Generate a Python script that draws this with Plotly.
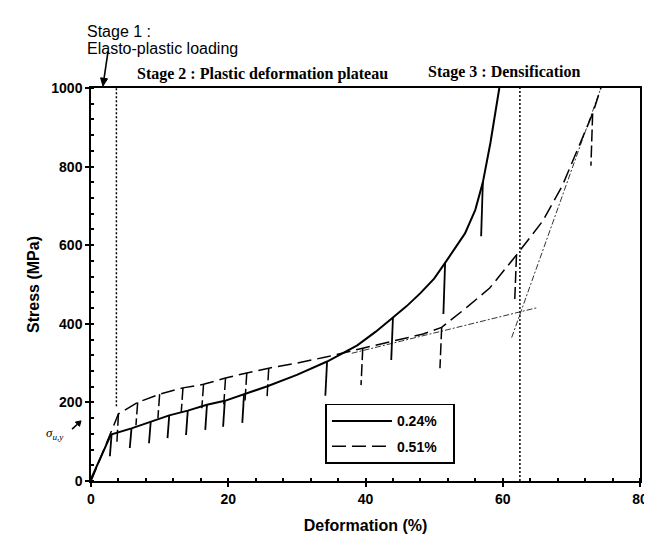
import math
import plotly.graph_objects as go

# ---- data ----
# 0.24% curve (loading envelope)
s024_x = [0, 0.5, 2.9, 5.9, 8.7, 11.4, 14.1, 16.9, 19.5, 22.3, 25.7, 30, 34.4, 38.8,
          41.5, 44, 46, 48, 50, 51.6, 53, 54.5, 56, 57.1, 58.2, 59.5]
s024_y = [5, 25, 118, 134, 150, 167, 179, 194, 204, 221, 241, 270, 304, 345,
          380, 416, 445, 478, 515, 555, 590, 630, 690, 760, 860, 1000]
# 0.24% unloading drops
u024_x = [3.0, 5.9, 8.7, 11.4, 14.1, 16.9, 19.5, 22.3, 34.4, 44, 51.6, 57.1]
u024_top = [119, 134, 150, 167, 179, 194, 204, 221, 304, 416, 555, 760]
u024_bot = [63, 84, 96, 109, 117, 130, 138, 148, 217, 308, 425, 623]

# 0.51% curve (loading envelope)
s051_x = [0, 0.3, 4.0, 6.8, 10, 13.4, 16.4, 19.6, 22.7, 25.9, 30, 34.4, 39.6, 44.6,
          48.4, 51.1, 54.7, 58.1, 62, 65.8, 68.7, 73.1, 74.3]
s051_y = [0, 12, 171, 200, 221, 237, 246, 262, 275, 287, 300, 316, 338, 358,
          374, 391, 441, 491, 575, 661, 752, 935, 1000]
# 0.51% unloading drops
u051_x = [4.0, 6.8, 10, 13.4, 16.4, 19.6, 22.7, 25.9, 39.6, 51.1, 62, 73.1]
u051_top = [171, 200, 221, 237, 246, 262, 275, 287, 338, 391, 575, 935]
u051_bot = [90, 142, 160, 175, 185, 195, 205, 212, 244, 287, 461, 802]

# tangent construction lines
tan_plateau_x = [38, 65]
tan_plateau_y = [325, 441]
tan_dens_x = [61.3, 74.3]
tan_dens_y = [365, 1000]

# stage boundaries (dotted verticals)
stage_x = [3.7, 62.5]
stage_ybot = [190, 0]
stage_ytop = [1000, 1000]

x_ticks = [0, 20, 40, 60, 80]
y_ticks = [0, 200, 400, 600, 800, 1000]

# ---- layout geometry (pixels) ----
W, H = 652, 536
ML, MR, MT, MB = 83, 18, 80, 54
PW, PH = W - ML - MR, H - MT - MB


def paper(px, py):
    return (px - ML) / PW, (H - MB - py) / PH


def arrow_path(tail, head, hl=7, hw=3.5):
    dx, dy = head[0] - tail[0], head[1] - tail[1]
    n = math.hypot(dx, dy)
    ux, uy = dx / n, dy / n
    bx, by = head[0] - ux * hl, head[1] - uy * hl
    p1 = (bx - uy * hw, by + ux * hw)
    p2 = (bx + uy * hw, by - ux * hw)
    t0, b0 = paper(*tail), paper(bx, by)
    tri = [paper(*head), paper(*p1), paper(*p2)]
    line = "M{:.4f},{:.4f} L{:.4f},{:.4f}".format(*t0, *b0)
    head_p = "M{:.4f},{:.4f} L{:.4f},{:.4f} L{:.4f},{:.4f} Z".format(*tri[0], *tri[1], *tri[2])
    return line, head_p


def segs(xs, tops, bots):
    X, Y = [], []
    for x, t, b in zip(xs, tops, bots):
        X += [x, x - 0.25, None]
        Y += [t, b, None]
    return X, Y


fig = go.Figure()

# dotted stage lines
for x, yb, yt in zip(stage_x, stage_ybot, stage_ytop):
    fig.add_trace(go.Scatter(x=[x, x], y=[yb, yt], mode="lines",
                             line=dict(color="black", width=1.5, dash="2px,2px"),
                             showlegend=False, hoverinfo="skip"))

# construction tangents
fig.add_trace(go.Scatter(x=tan_plateau_x, y=tan_plateau_y, mode="lines",
                         line=dict(color="#333", width=1, dash="6px,2px,2px,2px"),
                         showlegend=False, hoverinfo="skip"))
fig.add_trace(go.Scatter(x=tan_dens_x, y=tan_dens_y, mode="lines",
                         line=dict(color="#333", width=1, dash="6px,2px,2px,2px"),
                         showlegend=False, hoverinfo="skip"))

# 0.24 %
ux, uy = segs(u024_x, u024_top, u024_bot)
fig.add_trace(go.Scatter(x=ux, y=uy, mode="lines", line=dict(color="black", width=1.8),
                         showlegend=False, hoverinfo="skip"))
fig.add_trace(go.Scatter(x=s024_x, y=s024_y, mode="lines",
                         name="0.24%&nbsp;&nbsp;&nbsp;", legendgroup="a",
                         line=dict(color="black", width=2)))

# 0.51 %
ux, uy = segs(u051_x, u051_top, u051_bot)
fig.add_trace(go.Scatter(x=ux, y=uy, mode="lines",
                         line=dict(color="black", width=1.5, dash="12px,4px"),
                         showlegend=False, hoverinfo="skip"))
fig.add_trace(go.Scatter(x=s051_x, y=s051_y, mode="lines",
                         name="0.51%&nbsp;&nbsp;&nbsp;", legendgroup="b",
                         line=dict(color="black", width=1.5, dash="14px,6px")))

axis_font = dict(family="Arial, Liberation Sans", size=14, color="black", weight="bold")
title_font = dict(family="Arial, Liberation Sans", size=16, color="black", weight="bold")

fig.update_xaxes(range=[0, 80], tickvals=x_ticks, showgrid=False, zeroline=False,
                 showline=True, linecolor="black", linewidth=1.5, mirror=True,
                 ticks="outside", ticklen=4, tickwidth=1.5, tickcolor="black",
                 tickfont=axis_font,
                 minor=dict(ticks="inside", ticklen=3, dtick=4, tickcolor="black"),
                 title=dict(text="Deformation (%)", standoff=14, font=title_font))
fig.update_yaxes(range=[0, 1000], tickvals=y_ticks, showgrid=False, zeroline=False,
                 showline=True, linecolor="black", linewidth=1.5, mirror=True,
                 ticks="outside", ticklen=4, tickwidth=1.5, tickcolor="black",
                 tickfont=axis_font,
                 minor=dict(ticks="inside", ticklen=3, dtick=40, tickcolor="black"),
                 title=dict(text="Stress (MPa)", standoff=8, font=title_font))

ann_sans = dict(family="Arial, Liberation Sans", size=16, color="black")
ann_serif = dict(family="Times New Roman, Liberation Serif", size=16, color="black",
                 weight="bold")
annotations = [
    dict(text="Stage 1 :", xref="paper", yref="paper", x=-0.011, y=1.143,
         xanchor="left", yanchor="middle", showarrow=False, font=ann_sans),
    dict(text="Elasto-plastic loading", xref="paper", yref="paper", x=-0.011, y=1.101,
         xanchor="left", yanchor="middle", showarrow=False, font=ann_sans),
    dict(text="Stage 2 : Plastic deformation plateau", xref="paper", yref="paper",
         x=0.312, y=1.036, xanchor="center", yanchor="middle", showarrow=False,
         font=ann_serif),
    dict(text="Stage 3 : Densification", xref="paper", yref="paper",
         x=0.754, y=1.041, xanchor="center", yanchor="middle", showarrow=False,
         font=ann_serif),
    dict(text="<i>σ</i><sub><i>u,y</i></sub>", xref="paper", yref="paper",
         x=-0.065, y=0.122, xanchor="center", yanchor="middle", showarrow=False,
         font=dict(family="Times New Roman, Liberation Serif", size=13, color="black")),
]

shapes = []
for tail, head, hl, hw in [((100, 43), (95, 78), 8, 3.5), ((64, 429), (73, 420.5), 5, 3)]:
    ln, hd = arrow_path(tail, head, hl, hw)
    shapes.append(dict(type="path", path=ln, xref="paper", yref="paper",
                       line=dict(color="black", width=1.6)))
    shapes.append(dict(type="path", path=hd, xref="paper", yref="paper",
                       line=dict(color="black", width=1), fillcolor="black"))

fig.update_layout(
    width=W, height=H,
    margin=dict(l=ML, r=MR, t=MT, b=MB),
    paper_bgcolor="white", plot_bgcolor="white",
    annotations=annotations, shapes=shapes,
    legend=dict(x=0.4265, y=0.197, xanchor="left", yanchor="top",
                bgcolor="white", bordercolor="black", borderwidth=1.8,
                font=dict(family="Arial, Liberation Sans", size=14, color="black",
                          weight="bold"),
                itemwidth=60, tracegroupgap=4),
)

fig.write_html("out.html")
